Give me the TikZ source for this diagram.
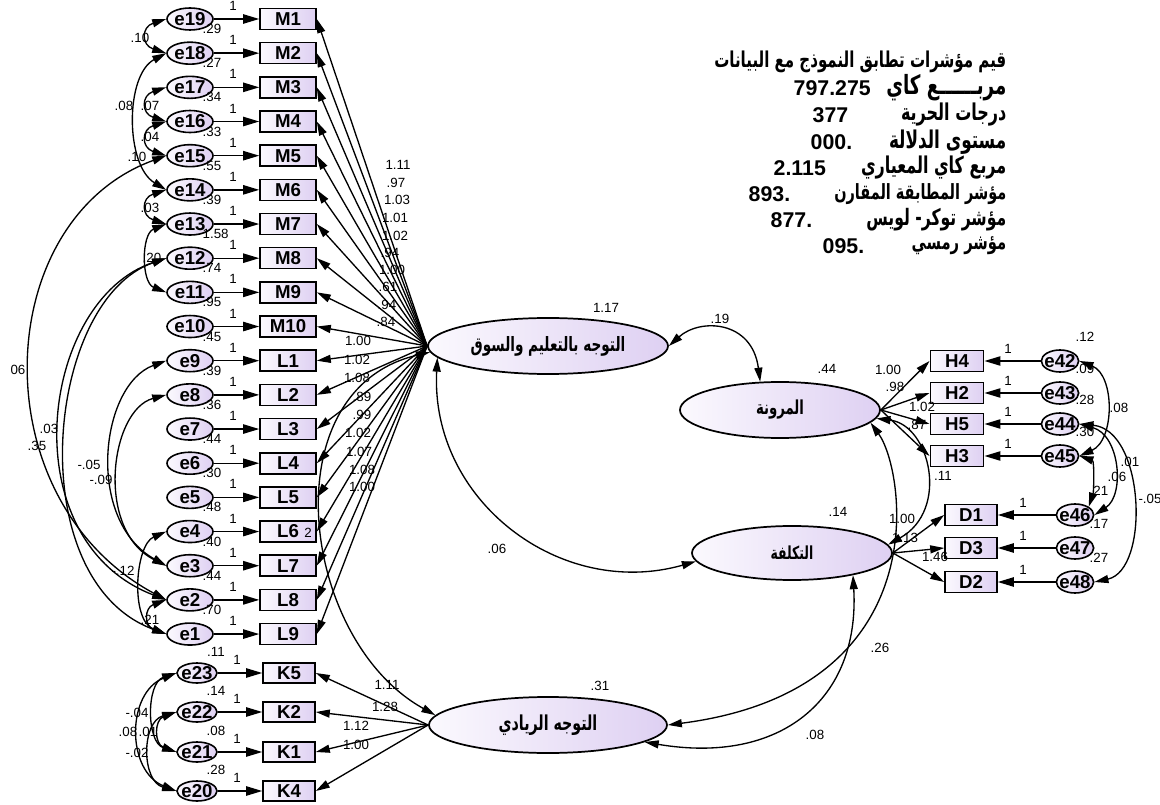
\documentclass[tikz,border=0pt]{standalone}
\usepackage{fontspec}
\usepackage{graphicx}
\setmainfont{Liberation Sans}
\newfontfamily\arabicfont[Script=Arabic]{DejaVu Sans}
\TeXXeTstate=1
\usetikzlibrary{arrows.meta,shapes.geometric}
\definecolor{lavR}{RGB}{222,208,242}
\definecolor{lavL}{RGB}{251,249,254}
\newcommand\artxt[2]{\scalebox{1}[1.45]{\resizebox{#1}{!}{\arabicfont\bfseries #2}}}
\begin{document}
\begin{tikzpicture}[x=0.75pt,y=-0.75pt,line width=1pt,
  >={Triangle[length=10.5pt,width=6pt]},
  etip/.style={-{Triangle[length=12pt,width=7pt]}},
  obs/.style={draw,line width=1.2pt,rectangle,inner sep=0pt,minimum width=42pt,minimum height=15.75pt,left color=lavL,right color=lavR,font=\fontsize{14}{16}\selectfont\bfseries},
  obsk/.style={obs,minimum width=39pt,minimum height=15pt},
  obsr/.style={obs,minimum width=40pt},
  err/.style={draw,line width=1.2pt,ellipse,inner sep=0pt,minimum width=34.5pt,minimum height=16.5pt,left color=lavL,right color=lavR},
  errk/.style={err,minimum width=30pt,minimum height=15pt},
  errr/.style={err,minimum width=28pt,minimum height=16.5pt},
  etext/.style={font=\fontsize{14}{16}\selectfont\bfseries,inner sep=0pt},
  num/.style={font=\fontsize{10}{12}\selectfont,inner sep=0pt},
  bignum/.style={font=\fontsize{16}{18}\selectfont\bfseries,inner sep=0pt,anchor=west},
  lat/.style={draw,line width=1.3pt,ellipse,inner sep=0pt,left color=lavL,right color=lavR},
  atxt/.style={inner sep=0pt,anchor=east}
]
\path[use as bounding box,fill=white] (0,0) rectangle (1160,805);

% ---------- latent variables ----------
\node[lat,minimum width=180pt,minimum height=42pt] (LM) at (548,346) {\artxt{116pt}{\beginR التوجه بالتعليم والسوق\endR}};
\node[lat,minimum width=150pt,minimum height=42pt] (FL) at (780,410) {\artxt{36pt}{\beginR المرونة\endR}};
\node[lat,minimum width=150pt,minimum height=40.5pt] (CO) at (792,553) {\artxt{32pt}{\beginR التكلفة\endR}};
\node[lat,minimum width=178.5pt,minimum height=42pt] (EN) at (548,725) {\artxt{74pt}{\beginR التوجه الريادي\endR}};

% ---------- left column M / L ----------
\foreach \i/\m/\e/\v in {0/M1/e19/.29,1/M2/e18/.27,2/M3/e17/.34,3/M4/e16/.33,4/M5/e15/.55,5/M6/e14/.39,6/M7/e13/1.58,7/M8/e12/.74,8/M9/e11/.95,9/M10/e10/.45,10/L1/e9/.39,11/L2/e8/.36,12/L3/e7/.44,13/L4/e6/.30,14/L5/e5/.48,15/L6/e4/.40,16/L7/e3/.44,17/L8/e2/.70,18/L9/e1/{}}{
  \pgfmathsetmacro\yy{19+\i*34.17}
  \node[err,label={[etext]center:\e}] (\e) at (190,\yy) {};
  \node[obs] (\m) at (288,\yy) {\m};
  \draw[etip] (\e.east) -- (\m.west);
  \node[num] at (233,\yy-13) {1};
  \node[num,anchor=west] at (202,\yy+10) {\v};
}
\node[num] at (308,533) {2};

% ---------- K column ----------
\foreach \yy/\k/\e/\v in {673/K5/e23/.11,712/K2/e22/.14,752/K1/e21/.08,791/K4/e20/.28}{
  \node[errk,label={[etext]center:\e}] (\e) at (197,\yy) {};
  \node[obsk] (\k) at (289,\yy) {\k};
  \draw[etip] (\e.east) -- (\k.west);
  \node[num] at (237,\yy-13) {1};
  \node[num] at (216,\yy-21) {\v};
}

% ---------- right H / D ----------
\foreach \yy/\h/\e/\v in {361/H4/e42/.12,393/H2/e43/.09,424/H5/e44/.28,456/H3/e45/.30}{
  \node[obsr] (\h) at (957,\yy) {\h};
  \node[errr,label={[etext]center:\e}] (\e) at (1060,\yy) {};
  \draw[etip] (\e.west) -- (\h.east);
  \node[num] at (1008,\yy-12) {1};
  \node[num] at (1085,\yy-24) {\v};
}
\foreach \yy/\d/\e/\v in {515/D1/e46/.21,548/D3/e47/.17,582/D2/e48/.27}{
  \node[obsr,minimum width=39pt] (\d) at (971,\yy) {\d};
  \node[errr,label={[etext]center:\e}] (\e) at (1075,\yy) {};
  \draw[etip] (\e.west) -- (\d.east);
  \node[num] at (1023,\yy-12) {1};
  \node[num] at (1099,\yy-24) {\v};
}

% ---------- loadings ----------
\foreach \b in {M1,M2,M3,M4,M5,M6,M7,M8,M9,M10,L1,L2,L3,L4,L5,L6,L7,L8,L9}
  \draw[->] (LM.west) -- (\b.east);
\foreach \b in {K5,K2,K1,K4}
  \draw[->] (EN.west) -- (\b.east);
\foreach \b in {H4,H2,H5,H3}
  \draw[->] (FL.east) -- (\b.west);
\foreach \b in {D1,D3,D2}
  \draw[->] (CO.east) -- (\b.west);

% loading labels
\foreach \x/\y/\t in {398/165/1.11,396/183/.97,397/200/1.03,395/218/1.01,395/236/1.02,390/253/.94,392/270/1.00,388/287/.61,387/305/.94,386/322/.84,358/341/1.00,357/360/1.02,357/378/1.08,362/397/.89,362/415/.99,358/433/1.02,359/452/1.07,362/470/1.08,362/487/1.00,
  387/685/1.11,385/707/1.28,356/726/1.12,356/745/1.00,
  888/370/1.00,895/387/.98,922/407/1.02,917/425/.87,902/519/1.00,905/538/1.13,935/557/1.46}
  \node[num] at (\x,\y) {\t};

% ---------- covariances between latents ----------
\draw[<->] (LM.east) .. controls (700,318) and (752,320) .. (FL.125);
\draw[<->] (LM.186) .. controls (430,500) and (560,600) .. (CO.185);
\draw[<->] (LM.183) .. controls (270,390) and (300,640) .. (EN.175);
\draw[<->] (FL.352) .. controls (905,470) and (940,690) .. (EN.east);
\draw[<->] (CO.340) .. controls (860,700) and (780,765) .. (EN.350);
\draw[<->] (FL.355) .. controls (930,425) and (950,510) .. (CO.5);

% latent labels
\foreach \x/\y/\t in {606/308/1.17,827/369/.44,838/512/.14,600/686/.31,720/319/.19,497/549/.06,880/648/.26,815/735/.08,943/476/.11}
  \node[num] at (\x,\y) {\t};

% ---------- error covariances left ----------
\draw[<->] (e19.west) .. controls +(-25,8) and +(-25,-8) .. (e18.west);
\draw[<->] (e18.west) .. controls (125,75) and (125,165) .. (e14.west);
\draw[<->] (e17.west) .. controls +(-25,8) and +(-25,-8) .. (e16.west);
\draw[<->] (e16.west) .. controls +(-25,8) and +(-25,-8) .. (e15.west);
\draw[<->] (e14.west) .. controls +(-25,8) and +(-25,-8) .. (e13.west);
\draw[<->] (e13.west) .. controls +(-25,10) and +(-25,-10) .. (e11.west);
\draw[<->] (e15.west) .. controls (-10,220) and (-20,500) .. (e2.west);
\draw[<->] (e12.west) .. controls (40,300) and (10,540) .. (e2.west);
\draw[<->] (e12.west) .. controls (45,300) and (20,580) .. (e1.west);
\draw[<->] (e9.west) .. controls (100,385) and (85,520) .. (e3.west);
\draw[<->] (e8.west) .. controls (110,410) and (95,530) .. (e3.west);
\draw[<->] (e4.west) .. controls (135,545) and (130,620) .. (e1.west);
\draw[<->] (e2.west) .. controls +(-22,8) and +(-22,-8) .. (e1.west);
% K group
\draw[<->] (e23.west) .. controls +(-30,10) and +(-30,-10) .. (e21.west);
\draw[<->] (e23.west) .. controls +(-50,20) and +(-50,-20) .. (e20.west);
\draw[<->] (e22.west) .. controls +(-22,8) and +(-22,-8) .. (e21.west);
\draw[<->] (e22.west) .. controls +(-35,10) and +(-35,-10) .. (e20.west);
% right group
\draw[<->] (e42.east) .. controls (1115,375) and (1115,440) .. (e45.east);
\draw[<->] (e44.east) .. controls (1120,435) and (1125,495) .. (e46.east);
\draw[<->] (e44.east) .. controls (1145,430) and (1150,570) .. (e48.east);
\draw[<->] (e45.east) .. controls +(15,5) and +(5,-15) .. (e46.north east);

\foreach \x/\y/\t in {140/38/.10,124/106/.08,150/106/.07,150/137/.04,137/157/.10,150/208/.03,152/258/.20,18/370/06,49/429/.03,37/446/.35,89/465/-.05,101/480/-.09,123/571/-.12,150/620/.21,
  137/713/-.04,128/732/.08,148/732/.01,137/753/-.02,
  1119/408/.08,1130/462/.01,1117/477/.06,1150/499/-.05}
  \node[num] at (\x,\y) {\t};

% ---------- fit indices ----------
\node[atxt] (t1) at (1007,62) {\artxt{219pt}{\beginR قيم مؤشرات تطابق النموذج مع البيانات\endR}};
\node[atxt] (t2) at (1007,88) {\artxt{90pt}{\beginR مربــــــع كاي\endR}};
\node[atxt] (t3) at (1007,115) {\artxt{79pt}{\beginR درجات الحرية\endR}};
\node[atxt] (t4) at (1007,142) {\artxt{88pt}{\beginR مستوى الدلالة\endR}};
\node[atxt] (t5) at (1007,168) {\artxt{109pt}{\beginR مربع كاي المعياري\endR}};
\node[atxt] (t6) at (1007,194) {\artxt{129pt}{\beginR مؤشر المطابقة المقارن\endR}};
\node[atxt] (t7) at (1007,220) {\artxt{105pt}{\beginR مؤشر توكر- لويس\endR}};
\node[atxt] (t8) at (1007,246) {\artxt{71pt}{\beginR مؤشر رمسي\endR}};
\node[bignum] (n2) at (793,88) {797.275};
\node[bignum] (n3) at (812,115) {377};
\node[bignum] (n4) at (810,142) {000.};
\node[bignum] (n5) at (773,168) {2.115};
\node[bignum] (n6) at (748,194) {893.};
\node[bignum] (n7) at (770,220) {877.};
\node[bignum] (n8) at (822,246) {095.};
\end{tikzpicture}
\end{document}
